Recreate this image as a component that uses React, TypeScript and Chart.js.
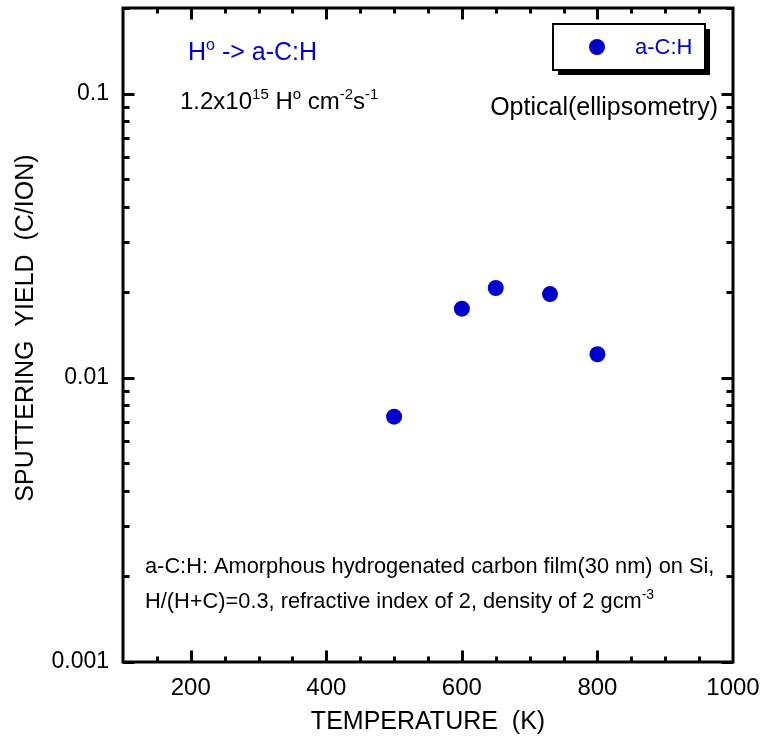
import React, { useEffect, useRef } from "react";
import { Chart, registerables } from "chart.js";

Chart.register(...registerables);

// Measured sputtering yields of the a-C:H film versus substrate temperature
const temperatures = [500, 600, 650, 730, 800];
const sputterYields = [0.0073, 0.0175, 0.0207, 0.0197, 0.0121];

// Axis definitions
const xMin = 100;
const xMax = 1000;
const xTickValues = [200, 400, 600, 800, 1000];
const xMinorStep = 50;
const xMajorStep = 200;
const yMin = 0.001;
const yMax = 0.2;
const yTickValues = [0.001, 0.01, 0.1];
const yTickLabels = ["0.001", "0.01", "0.1"];

const seriesLabel = "a-C:H";
const xTitle = "TEMPERATURE  (K)";
const yTitle = "  SPUTTERING  YIELD  (C/ION)";

const FONT = '"Liberation Sans", Arial, Helvetica, sans-serif';
const BLUE = "#0000CC";
const BLACK = "#000000";

type Part = { t: string; sup?: boolean };

function drawRich(
  ctx: CanvasRenderingContext2D,
  parts: Part[],
  x: number,
  y: number,
  size: number,
  color: string,
  align: "left" | "right" = "left"
) {
  ctx.save();
  ctx.fillStyle = color;
  ctx.textBaseline = "alphabetic";
  ctx.textAlign = "left";
  const supSize = Math.round(size * 0.62);
  const fontFor = (p: Part) => `${p.sup ? supSize : size}px ${FONT}`;
  const widths = parts.map((p) => {
    ctx.font = fontFor(p);
    return ctx.measureText(p.t).width;
  });
  const total = widths.reduce((a, b) => a + b, 0);
  let cx = align === "right" ? x - total : x;
  parts.forEach((p, i) => {
    ctx.font = fontFor(p);
    ctx.fillText(p.t, cx, p.sup ? y - size * 0.42 : y);
    cx += widths[i];
  });
  ctx.restore();
}

// Boxed frame with inward tick marks on all four sides
const framePlugin = {
  id: "frameTicks",
  beforeDatasetsDraw(chart: any) {
    const { ctx, chartArea } = chart;
    const { left, right, top, bottom } = chartArea;
    const xs = chart.scales.x;
    const ys = chart.scales.y;
    ctx.save();
    ctx.strokeStyle = BLACK;
    ctx.lineWidth = 3;
    ctx.lineCap = "butt";

    // x ticks (bottom and top)
    for (let v = xMin + xMinorStep; v < xMax; v += xMinorStep) {
      const px = Math.round(xs.getPixelForValue(v)) + 0.5;
      const len = v % xMajorStep === 0 ? 10 : 4;
      ctx.beginPath();
      ctx.moveTo(px, bottom);
      ctx.lineTo(px, bottom - 1.5 - len);
      ctx.moveTo(px, top);
      ctx.lineTo(px, top + 1.5 + len);
      ctx.stroke();
    }

    // y ticks (left and right), log decades
    for (let d = yMin; d < yMax; d *= 10) {
      for (let m = 1; m <= 9; m++) {
        const v = m * d;
        if (v > yMax * 1.0001) break;
        const py = Math.round(ys.getPixelForValue(v)) + 0.5;
        const len = m === 1 ? 10 : 5;
        ctx.beginPath();
        ctx.moveTo(left, py);
        ctx.lineTo(left + 1.5 + len, py);
        ctx.moveTo(right, py);
        ctx.lineTo(right - 1.5 - len, py);
        ctx.stroke();
      }
    }

    ctx.strokeRect(left, top, right - left, bottom - top);
    ctx.restore();

    // annotations
    drawRich(ctx, [{ t: "H" }, { t: "o", sup: true }, { t: " -> a-C:H" }], 188, 60, 25, BLUE);
    drawRich(
      ctx,
      [
        { t: "1.2x10" },
        { t: "15", sup: true },
        { t: " H" },
        { t: "o", sup: true },
        { t: " cm" },
        { t: "-2", sup: true },
        { t: "s" },
        { t: "-1", sup: true },
      ],
      180,
      109,
      24,
      BLACK
    );
    drawRich(ctx, [{ t: "Optical(ellipsometry)" }], 718, 115, 25, BLACK, "right");
    drawRich(
      ctx,
      [{ t: "a-C:H: Amorphous hydrogenated carbon film(30 nm) on Si," }],
      145,
      573,
      21.8,
      BLACK
    );
    drawRich(
      ctx,
      [{ t: "H/(H+C)=0.3, refractive index of 2, density of 2 gcm" }, { t: "-3", sup: true }],
      145,
      608,
      21.8,
      BLACK
    );
  },
  afterDraw(chart: any) {
    const { ctx } = chart;
    const ds = chart.data.datasets[0];
    const bx = 553;
    const by = 24;
    const bw = 152;
    const bh = 46;
    ctx.save();
    // drop shadow
    ctx.fillStyle = BLACK;
    ctx.fillRect(bx + 5, by + 5, bw, bh);
    ctx.fillStyle = "#ffffff";
    ctx.fillRect(bx, by, bw, bh);
    ctx.strokeStyle = BLACK;
    ctx.lineWidth = 2;
    ctx.strokeRect(bx, by, bw, bh);
    // marker + label
    ctx.fillStyle = ds.backgroundColor;
    ctx.beginPath();
    ctx.arc(bx + 44, by + 23, ds.pointRadius, 0, Math.PI * 2);
    ctx.fill();
    ctx.fillStyle = BLUE;
    ctx.font = `22px ${FONT}`;
    ctx.textAlign = "left";
    ctx.textBaseline = "middle";
    ctx.fillText(ds.label, bx + 82, by + 24);
    ctx.restore();
  },
};

export default function App() {
  const canvasRef = useRef<HTMLCanvasElement | null>(null);

  useEffect(() => {
    document.body.style.margin = "0";
    const canvas = canvasRef.current;
    if (!canvas) return;
    const chart = new Chart(canvas, {
      type: "scatter",
      data: {
        datasets: [
          {
            label: seriesLabel,
            data: temperatures.map((t, i) => ({ x: t, y: sputterYields[i] })),
            backgroundColor: BLUE,
            borderColor: BLUE,
            borderWidth: 0,
            pointRadius: 8,
            pointHoverRadius: 8,
            showLine: false,
          },
        ],
      },
      options: {
        responsive: false,
        animation: false,
        devicePixelRatio: 1,
        layout: { padding: { top: 7, right: 31, left: 0, bottom: 0 } },
        plugins: {
          legend: { display: false },
          tooltip: { enabled: false },
        },
        scales: {
          x: {
            type: "linear",
            min: xMin,
            max: xMax,
            afterBuildTicks: (s: any) => {
              s.ticks = xTickValues.map((v) => ({ value: v }));
            },
            afterFit: (s: any) => {
              s.height = 75;
              s.paddingLeft = 0;
              s.paddingRight = 0;
            },
            ticks: {
              font: { size: 24, family: FONT },
              color: BLACK,
              padding: 12,
              maxRotation: 0,
              autoSkip: false,
              callback: (v: any) => String(v),
            },
            grid: { display: false, drawTicks: false },
            border: { display: false },
            title: {
              display: true,
              text: xTitle,
              font: { size: 25, family: FONT },
              color: BLACK,
              padding: { top: 0, bottom: 0 },
            },
          },
          y: {
            type: "logarithmic",
            min: yMin,
            max: yMax,
            afterBuildTicks: (s: any) => {
              s.ticks = yTickValues.map((v) => ({ value: v }));
            },
            afterFit: (s: any) => {
              s.width = 123;
              s.paddingTop = 0;
              s.paddingBottom = 0;
            },
            ticks: {
              font: { size: 23, family: FONT },
              color: BLACK,
              padding: 14,
              autoSkip: false,
              callback: (v: any) => {
                const i = yTickValues.findIndex((t) => Math.abs(t - v) < t * 1e-6);
                return i >= 0 ? yTickLabels[i] : "";
              },
            },
            grid: { display: false, drawTicks: false },
            border: { display: false },
            title: {
              display: true,
              text: yTitle,
              font: { size: 25, family: FONT },
              color: BLACK,
              padding: { top: 11, bottom: 0 },
            },
          },
        },
      },
      plugins: [framePlugin],
    });
    return () => chart.destroy();
  }, []);

  return (
    <div style={{ width: 764, height: 737 }}>
      <canvas ref={canvasRef} width={764} height={737} />
    </div>
  );
}
